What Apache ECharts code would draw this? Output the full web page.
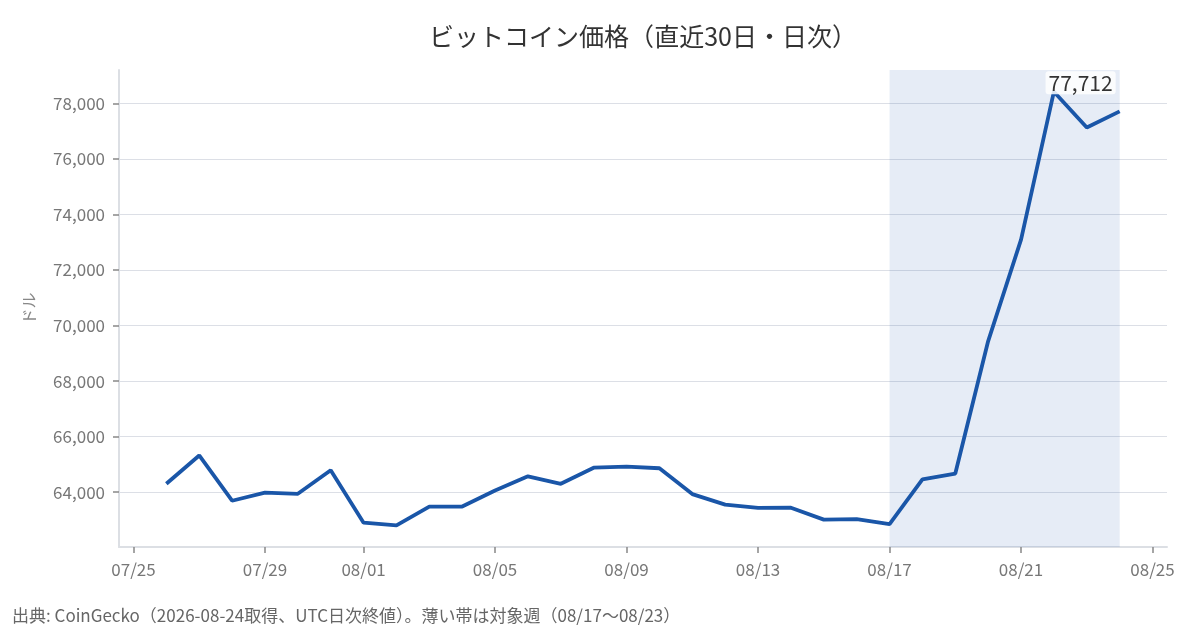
<!DOCTYPE html>
<html>
<head>
<meta charset="utf-8">
<style>
  html, body { margin: 0; padding: 0; background: #fff; }
  #chart { width: 1200px; height: 630px; }
</style>
<script src="https://cdn.jsdelivr.net/npm/echarts@6/dist/echarts.min.js"></script>
</head>
<body>
<div id="chart"></div>
<script>
var dates = [
    '2026-07-26','2026-07-27','2026-07-28','2026-07-29','2026-07-30','2026-07-31',
    '2026-08-01','2026-08-02','2026-08-03','2026-08-04','2026-08-05','2026-08-06',
    '2026-08-07','2026-08-08','2026-08-09','2026-08-10','2026-08-11','2026-08-12',
    '2026-08-13','2026-08-14','2026-08-15','2026-08-16','2026-08-17','2026-08-18',
    '2026-08-19','2026-08-20','2026-08-21','2026-08-22','2026-08-23','2026-08-24'
];
var prices = [
    64300, 65320, 63690, 63980, 63940, 64790,
    62900, 62805, 63480, 63480, 64060, 64570,
    64300, 64880, 64920, 64860, 63930, 63550,
    63430, 63440, 63010, 63030, 62850, 64460,
    64670, 69440, 73090, 78420, 77130, 77712
];
var yTicks = [64000, 66000, 68000, 70000, 72000, 74000, 76000, 78000];
var weekBand = ['2026-08-17', '2026-08-24'];

var chart = echarts.init(document.getElementById('chart'));
var font = '"Noto Sans CJK JP", "Noto Sans", sans-serif';
var last = prices.length - 1;

// only the latest point carries a label
var seriesData = dates.map(function (d, i) {
    if (i === last) {
        return {
            value: [d, prices[i]],
            label: {
                show: true,
                position: 'top',
                align: 'right',
                distance: 17,
                offset: [-4, 0],
                fontSize: 21,
                fontFamily: font,
                color: '#333',
                backgroundColor: 'rgba(255,255,255,0.85)',
                borderRadius: 3,
                padding: [1, 3, 1, 3],
                formatter: function (p) { return p.value[1].toLocaleString('en-US'); }
            }
        };
    }
    return [d, prices[i]];
});

var option = {
    animation: false,
    textStyle: { fontFamily: font },
    title: {
        text: 'ビットコイン価格（直近30日・日次）',
        left: 638,
        textAlign: 'center',
        top: 19,
        textStyle: { fontSize: 25, fontWeight: 'normal', color: '#333', fontFamily: font }
    },
    grid: { left: 119, right: 33, top: 70, bottom: 83 },
    xAxis: {
        type: 'time',
        min: function (v) { return v.min - 1.44 * 86400000; },
        max: function (v) { return v.max + 1.44 * 86400000; },
        axisLine: { lineStyle: { color: '#dcdfe4', width: 2 } },
        axisTick: { show: true, length: 6, lineStyle: { color: '#888', width: 1.5 } },
        axisLabel: {
            formatter: '{MM}/{dd}',
            fontSize: 17,
            color: '#777',
            margin: 14,
            fontFamily: font
        },
        splitLine: { show: false }
    },
    yAxis: {
        type: 'value',
        name: 'ドル',
        nameLocation: 'middle',
        nameRotate: 90,
        nameGap: 82,
        nameTextStyle: { fontSize: 16, color: '#888', fontFamily: font },
        min: function (v) { return v.min - (v.max - v.min) * 0.05; },
        max: function (v) { return v.max + (v.max - v.min) * 0.05; },
        axisLine: { show: true, lineStyle: { color: '#dcdfe4', width: 2 } },
        axisTick: { show: true, length: 6, customValues: yTicks, lineStyle: { color: '#888', width: 1.5 } },
        axisLabel: {
            customValues: yTicks,
            fontSize: 17,
            color: '#777',
            margin: 14,
            fontFamily: font,
            formatter: function (v) { return v.toLocaleString('en-US'); }
        },
        splitLine: { show: true, lineStyle: { color: '#dcdfe6', width: 1 } }
    },
    series: [
        {
            type: 'line',
            data: seriesData,
            showSymbol: true,
            symbol: 'circle',
            symbolSize: 0,
            lineStyle: { color: '#1a56a8', width: 3.8 },
            itemStyle: { color: '#1a56a8' },
            markArea: {
                silent: true,
                itemStyle: { color: 'rgba(30, 80, 170, 0.11)' },
                data: [[{ xAxis: weekBand[0] }, { xAxis: weekBand[1] }]]
            }
        }
    ],
    graphic: [
        {
            type: 'text',
            left: 12,
            top: 607,
            style: {
                text: '出典: CoinGecko（2026-08-24取得、UTC日次終値）。薄い帯は対象週（08/17〜08/23）',
                fontSize: 17,
                fill: '#666',
                fontFamily: font
            }
        }
    ]
};
chart.setOption(option);
</script>
</body>
</html>
